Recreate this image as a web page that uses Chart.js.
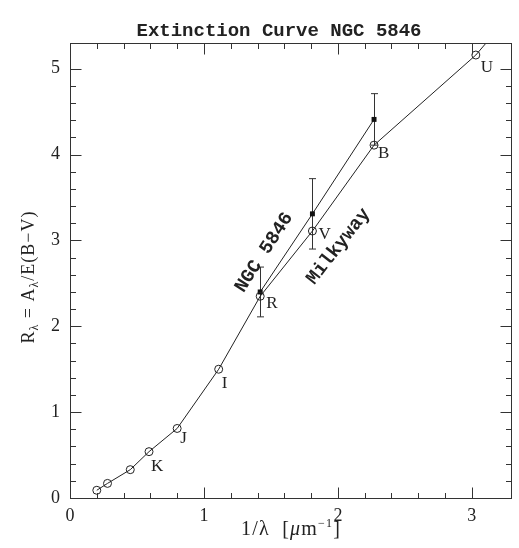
<!DOCTYPE html>
<html><head><meta charset="utf-8">
<script src="https://cdn.jsdelivr.net/npm/chart.js@4.4.0/dist/chart.umd.min.js"></script>
<style>html,body{margin:0;padding:0;background:#fff;}canvas{display:block;}</style>
</head><body>
<canvas id="c" width="519" height="548"></canvas>
<script>
// ---- data ----
const mwX = [0.20, 0.28, 0.45, 0.59, 0.80, 1.11, 1.42, 1.81, 2.27, 3.03, 3.20];
const mwY = [0.09, 0.17, 0.33, 0.54, 0.81, 1.50, 2.35, 3.11, 4.11, 5.16, 5.47];
const mwLabels = ['', '', '', 'K', 'J', 'I', 'R', 'V', 'B', 'U', ''];
const ngcX = [1.42, 1.81, 2.27];
const ngcY = [2.40, 3.31, 4.41];
const ngcErr = [0.29, 0.41, 0.30];
const xTickLabels = ['0', '1', '2', '3'];
const yTickLabels = ['0', '1', '2', '3', '4', '5'];
const chartTitle = 'Extinction Curve NGC 5846';
const seriesNames = ['Milkyway', 'NGC 5846'];

// ---- style ----
const INK = '#222';
const SERIF = '"Liberation Serif", "Times New Roman", serif';
const MONO = '"Liberation Mono", "Courier New", monospace';
const labelNudge = {K:[2,19], J:[3,15], I:[3,19], R:[6,12], V:[6,8], B:[4,13], U:[5,17]};
const annot = [
  {text: seriesNames[1], x: 1.45, y: 2.86, angle: -57},
  {text: seriesNames[0], x: 2.005, y: 2.93, angle: -52}
];

function isStep(v, s){ return Math.abs(v/s - Math.round(v/s)) < 1e-6; }
function isInt(v){ return Math.abs(v - Math.round(v)) < 1e-6; }

function drawRich(ctx, pieces, spacing){
  // draws pieces starting at x=0 baseline 0 centred; returns nothing
  let total = 0;
  ctx.letterSpacing = spacing + 'px';
  pieces.forEach(p => { ctx.font = p.f; p.w = ctx.measureText(p.t).width; total += p.w; });
  let x = -total/2;
  pieces.forEach(p => { ctx.font = p.f; ctx.fillText(p.t, x, p.dy || 0); x += p.w; });
  ctx.letterSpacing = '0px';
}

const deco = {
  id: 'deco',
  beforeDatasetsDraw(chart){
    const {ctx, scales:{x, y}} = chart;
    ctx.save();
    ctx.strokeStyle = '#333'; ctx.lineWidth = 1;
    ngcX.forEach((v, i) => {
      const px = Math.round(x.getPixelForValue(v)) + 0.5;
      const t = y.getPixelForValue(ngcY[i] + ngcErr[i]);
      const b = y.getPixelForValue(ngcY[i] - ngcErr[i]);
      ctx.beginPath();
      ctx.moveTo(px, t); ctx.lineTo(px, b);
      ctx.moveTo(px - 3.5, t); ctx.lineTo(px + 3.5, t);
      ctx.moveTo(px - 3.5, b); ctx.lineTo(px + 3.5, b);
      ctx.stroke();
    });
    ctx.restore();
  },
  afterDatasetsDraw(chart){
    const {ctx, chartArea: a, scales:{x, y}} = chart;
    ctx.save();
    // frame
    ctx.strokeStyle = '#333'; ctx.lineWidth = 1;
    const L = Math.round(a.left) + 0.5, R = Math.round(a.right) - 0.5;
    const T = Math.round(a.top) + 0.5, B = Math.round(a.bottom) + 0.5;
    ctx.strokeRect(L, T, R - L, B - T);
    // ticks (inward, mirrored)
    ctx.beginPath();
    x.ticks.forEach(t => {
      if (!isStep(t.value, 0.2)) return;
      const len = isInt(t.value) ? 11 : 5.5;
      const px = Math.round(x.getPixelForValue(t.value)) + 0.5;
      ctx.moveTo(px, B); ctx.lineTo(px, B - len);
      ctx.moveTo(px, T); ctx.lineTo(px, T + len);
    });
    y.ticks.forEach(t => {
      if (!isStep(t.value, 0.2)) return;
      const len = isInt(t.value) ? 11 : 5.5;
      const py = Math.round(y.getPixelForValue(t.value)) + 0.5;
      ctx.moveTo(L, py); ctx.lineTo(L + len, py);
      ctx.moveTo(R, py); ctx.lineTo(R - len, py);
    });
    ctx.stroke();

    // point labels
    ctx.fillStyle = INK;
    ctx.font = '17px ' + SERIF;
    ctx.textAlign = 'left'; ctx.textBaseline = 'alphabetic';
    mwX.forEach((v, i) => {
      const lab = mwLabels[i];
      if (!lab) return;
      const n = labelNudge[lab] || [4, 14];
      ctx.fillText(lab, x.getPixelForValue(v) + n[0], y.getPixelForValue(mwY[i]) + n[1]);
    });

    // series annotations
    ctx.font = 'bold 19px ' + MONO;
    ctx.textAlign = 'center'; ctx.textBaseline = 'middle';
    annot.forEach(an => {
      ctx.save();
      ctx.translate(x.getPixelForValue(an.x), y.getPixelForValue(an.y));
      ctx.rotate(an.angle * Math.PI / 180);
      ctx.fillText(an.text, 0, 0);
      ctx.restore();
    });

    // title
    ctx.font = 'bold 19px ' + MONO;
    ctx.textAlign = 'center'; ctx.textBaseline = 'alphabetic';
    ctx.fillText(chartTitle, 279, 36);

    // x axis title
    ctx.textAlign = 'left';
    ctx.save();
    ctx.translate((a.left + a.right) / 2, 535);
    drawRich(ctx, [
      {t: '1/λ  [', f: '20px ' + SERIF},
      {t: 'μ', f: 'italic 20px ' + SERIF},
      {t: 'm', f: '20px ' + SERIF},
      {t: '−1', f: '12px ' + SERIF, dy: -8},
      {t: ']', f: '20px ' + SERIF}
    ], 1.2);
    ctx.restore();

    // y axis title
    ctx.save();
    ctx.translate(34, 277);
    ctx.rotate(-Math.PI / 2);
    drawRich(ctx, [
      {t: 'R', f: '18px ' + SERIF},
      {t: 'λ', f: '12px ' + SERIF, dy: 4},
      {t: ' = A', f: '18px ' + SERIF},
      {t: 'λ', f: '12px ' + SERIF, dy: 4},
      {t: '/E(B−V)', f: '18px ' + SERIF}
    ], 1);
    ctx.restore();

    ctx.restore();
  }
};

new Chart(document.getElementById('c').getContext('2d'), {
  type: 'scatter',
  data: {
    datasets: [
      {
        label: seriesNames[0],
        data: mwX.map((v, i) => ({x: v, y: mwY[i]})),
        showLine: true, borderColor: '#222', borderWidth: 1, tension: 0,
        pointStyle: 'circle', pointRadius: 4, pointBorderWidth: 1,
        pointBackgroundColor: 'rgba(0,0,0,0)', pointBorderColor: '#222'
      },
      {
        label: seriesNames[1],
        data: ngcX.map((v, i) => ({x: v, y: ngcY[i]})),
        showLine: true, borderColor: '#222', borderWidth: 1, tension: 0,
        pointStyle: 'rect', pointRadius: 3.5, pointBorderWidth: 0,
        pointBackgroundColor: '#111', pointBorderColor: '#111'
      }
    ]
  },
  options: {
    responsive: false, devicePixelRatio: 1, animation: false, events: [],
    layout: {padding: {top: 43, right: 5, left: 0, bottom: 0}},
    plugins: {legend: {display: false}, tooltip: {enabled: false}, title: {display: false}},
    scales: {
      x: {
        type: 'linear', min: 0, max: 3.3,
        afterFit(s){ s.height = 50; },
        grid: {display: false, drawTicks: false}, border: {display: false},
        ticks: {
          stepSize: 0.2, autoSkip: false, maxRotation: 0, padding: 7, color: INK,
          font: {family: SERIF, size: 18},
          callback: v => isInt(v) ? (xTickLabels[Math.round(v)] ?? '') : ''
        }
      },
      y: {
        type: 'linear', min: 0, max: 5.3,
        afterFit(s){ s.width = 70; },
        grid: {display: false, drawTicks: false}, border: {display: false},
        ticks: {
          stepSize: 0.2, autoSkip: false, padding: 10, color: INK,
          font: {family: SERIF, size: 18},
          callback: v => isInt(v) ? (yTickLabels[Math.round(v)] ?? '') : ''
        }
      }
    }
  },
  plugins: [deco]
});
</script>
</body></html>
